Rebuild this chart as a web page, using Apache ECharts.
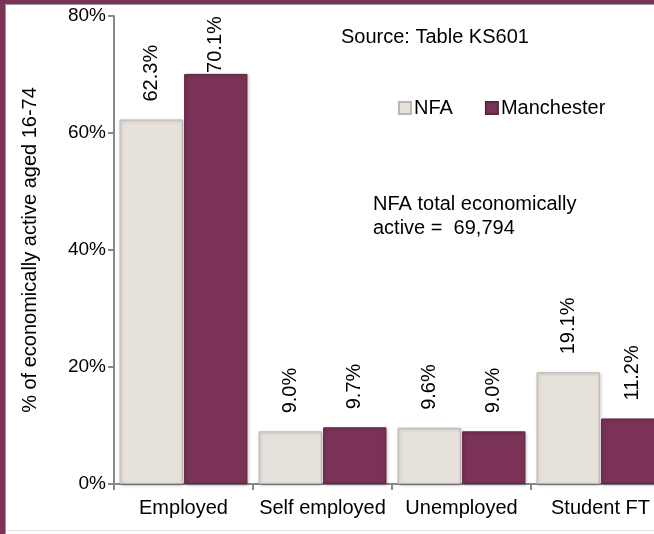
<!DOCTYPE html>
<html>
<head>
<meta charset="utf-8">
<script src="https://cdn.jsdelivr.net/npm/echarts@6/dist/echarts.min.js"></script>
<style>
html,body{margin:0;padding:0;background:#fff;}
#c{width:654px;height:534px;}
</style>
</head>
<body>
<div id="c"></div>
<script>
var categories = ['Employed', 'Self employed', 'Unemployed', 'Student FT'];
var nfaValues = [62.3, 9.0, 9.6, 19.1];
var manchesterValues = [70.1, 9.7, 9.0, 11.2];
var seriesNames = ['NFA', 'Manchester'];
var yTicks = [0, 20, 40, 60, 80];

var FONT = '"Liberation Sans", Arial, sans-serif';
var FS = 20;
var chart = echarts.init(document.getElementById('c'), null, {renderer: 'canvas'});

var labelCfg = {
  show: true, position: 'top', rotate: 90, align: 'left', verticalAlign: 'middle',
  distance: 18, fontFamily: FONT, fontSize: FS, color: '#000',
  formatter: function (p) { return p.value.toFixed(1) + '%'; }
};

// the tallest label sits against the top of the plot, as in the reference
var manData = manchesterValues.map(function (v, i) {
  return i === 0 ? {value: v, label: {distance: 1}} : v;
});

chart.setOption({
  animation: false,
  backgroundColor: '#fff',
  textStyle: {fontFamily: FONT},
  grid: {left: 114, top: 16, bottom: 50, width: 556, containLabel: false, outerBoundsMode: 'none'},
  legend: {
    data: seriesNames, left: 393, top: 93, itemWidth: 12, itemHeight: 12, itemGap: 32,
    icon: 'rect', textStyle: {fontFamily: FONT, fontSize: FS, color: '#000', padding: [0, 0, 0, -2]}
  },
  xAxis: {
    type: 'category', data: categories,
    axisLine: {lineStyle: {color: '#888', width: 2}},
    axisTick: {show: true, length: 6, lineStyle: {color: '#888', width: 2}},
    axisLabel: {interval: 0, fontFamily: FONT, fontSize: FS, color: '#000', margin: 14}
  },
  yAxis: {
    type: 'value', min: yTicks[0], max: yTicks[yTicks.length - 1], interval: 20,
    name: '% of economically active aged 16-74', nameLocation: 'middle', nameGap: 74,
    nameTextStyle: {fontFamily: FONT, fontSize: FS, color: '#000'},
    axisLine: {show: true, lineStyle: {color: '#888', width: 2}},
    axisTick: {show: true, length: 6, lineStyle: {color: '#888', width: 2}},
    splitLine: {show: false},
    axisLabel: {fontFamily: FONT, fontSize: 19, color: '#000', margin: 8, formatter: '{value}%'}
  },
  series: [
    {
      name: seriesNames[0], type: 'bar', data: nfaValues, barGap: '2%', barCategoryGap: '8%',
      itemStyle: {color: '#E7E1DB', borderColor: '#BDB6B0', borderWidth: 1,
        shadowColor: 'rgba(0,0,0,0.25)', shadowBlur: 3, shadowOffsetX: 1, shadowOffsetY: 1},
      label: labelCfg
    },
    {
      name: seriesNames[1], type: 'bar', data: manData,
      itemStyle: {color: '#7A3357', borderColor: '#5E2543', borderWidth: 1,
        shadowColor: 'rgba(0,0,0,0.25)', shadowBlur: 3, shadowOffsetX: 1, shadowOffsetY: 1},
      label: labelCfg
    }
  ],
  graphic: [
    {type: 'text', left: 341, top: 27, style: {text: 'Source: Table KS601', font: FS + 'px ' + FONT, fill: '#000'}},
    {type: 'text', left: 373, top: 192, style: {text: 'NFA total economically\nactive =  69,794', font: FS + 'px ' + FONT, fill: '#000', lineHeight: 24}},
    {type: 'rect', shape: {x: 0, y: 0, width: 654, height: 4}, style: {fill: '#7A3357'}},
    {type: 'rect', shape: {x: 0, y: 4, width: 654, height: 1}, style: {fill: '#9a9a9a'}},
    {type: 'rect', shape: {x: 0, y: 0, width: 5, height: 534}, style: {fill: '#7A3357'}},
    {type: 'rect', shape: {x: 5, y: 4, width: 1, height: 530}, style: {fill: '#9a9a9a'}},
    {type: 'rect', shape: {x: 6, y: 530, width: 648, height: 1}, style: {fill: '#e4e4e4'}}
  ]
});
</script>
</body>
</html>
